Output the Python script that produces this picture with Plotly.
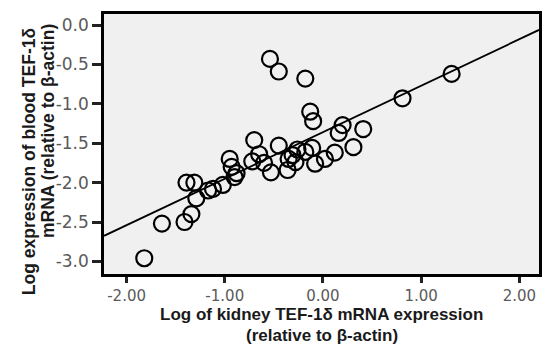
import plotly.graph_objects as go
import numpy as np

# Log kidney TEF-1δ (x) vs log blood TEF-1δ (y)
kidney = [-1.82, -1.64, -1.41, -1.34, -1.39, -1.31, -1.29, -1.17, -1.12, -1.02,
          -0.95, -0.93, -0.90, -0.88, -0.72, -0.70, -0.65, -0.60, -0.54, -0.45,
          -0.18, -0.13, -0.10, -0.45, -0.53, -0.36, -0.35, -0.28, -0.26, -0.18,
          -0.11, -0.08, 0.02, 0.12, 0.31, 0.16, 0.20, 0.41, 0.81, 1.31, -0.31]
blood = [-2.96, -2.52, -2.50, -2.40, -2.00, -2.00, -2.20, -2.10, -2.08, -2.03,
         -1.70, -1.80, -1.93, -1.88, -1.73, -1.46, -1.64, -1.75, -0.43, -0.59,
         -0.68, -1.10, -1.22, -1.53, -1.87, -1.84, -1.70, -1.74, -1.58, -1.61,
         -1.56, -1.76, -1.70, -1.62, -1.55, -1.37, -1.27, -1.32, -0.93, -0.62, -1.65]

fit_slope = 0.59
fit_intercept = -1.36

x_ticks = [-2, -1, 0, 1, 2]
x_ticktext = ["-2.00", "-1.00", "0.00", "1.00", "2.00"]
y_ticks = [0, -0.5, -1, -1.5, -2, -2.5, -3]
y_ticktext = ["0.0", "-0.5", "-1.0", "-1.5", "-2.0", "-2.5", "-3.0"]

x_title = ["Log of kidney TEF-1δ mRNA expression", "(relative to β-actin)"]
y_title = ["Log expression of blood TEF-1δ", "mRNA (relative to β-actin)"]

x_range = [-2.23, 2.20]
y_range = [-3.16, 0.14]

fit_x = np.array(x_range)
fit_y = fit_slope * fit_x + fit_intercept

fig = go.Figure()
fig.add_trace(go.Scatter(x=fit_x, y=fit_y, mode="lines",
                         line=dict(color="black", width=1.8), hoverinfo="skip"))
fig.add_trace(go.Scatter(x=kidney, y=blood, mode="markers",
                         marker=dict(symbol="circle-open", size=16, color="black",
                                     line=dict(width=2.2, color="black"))))

title_font_x = dict(family="Liberation Sans, Arial, sans-serif", size=17, color="#1a1a1a")
title_font_y = dict(family="Liberation Sans, Arial, sans-serif", size=17.5, color="#1a1a1a")
ann = [
    dict(text="<b>%s</b>" % x_title[0], x=0.5, y=0, xref="paper", yref="paper",
         xanchor="center", yanchor="middle", yshift=-40, showarrow=False, font=title_font_x),
    dict(text="<b>%s</b>" % x_title[1], x=0.5, y=0, xref="paper", yref="paper",
         xanchor="center", yanchor="middle", yshift=-61, showarrow=False, font=title_font_x),
    dict(text="<b>%s</b>" % y_title[0], x=0, y=0.43, xref="paper", yref="paper",
         xanchor="center", yanchor="middle", xshift=-75, textangle=-90,
         showarrow=False, font=title_font_y),
    dict(text="<b>%s</b>" % y_title[1], x=0, y=0.55, xref="paper", yref="paper",
         xanchor="center", yanchor="middle", xshift=-56, textangle=-90,
         showarrow=False, font=title_font_y),
]

fig.update_layout(
    width=544, height=347,
    margin=dict(l=104, r=2, t=14, b=73),
    paper_bgcolor="white", plot_bgcolor="#f0f0f0",
    showlegend=False,
    font=dict(family="DejaVu Sans, sans-serif", color="#222"),
    annotations=ann,
)
tick_font_x = dict(family="DejaVu Sans, sans-serif", size=15, color="#5a5a5a")
tick_font_y = dict(family="DejaVu Sans, sans-serif", size=17, color="#5a5a5a")
fig.update_xaxes(range=x_range, tickvals=x_ticks, ticktext=x_ticktext,
                 showgrid=False, zeroline=False, showline=True, mirror=True,
                 linecolor="black", linewidth=2.5, ticks="outside", ticklen=6,
                 tickwidth=2.5, tickcolor="#222", tickfont=tick_font_x)
fig.update_yaxes(range=y_range, tickvals=y_ticks, ticktext=y_ticktext,
                 showgrid=False, zeroline=False, showline=True, mirror=True,
                 linecolor="black", linewidth=2.5, ticks="outside", ticklen=9,
                 tickwidth=2.5, tickcolor="#222", tickfont=tick_font_y)

fig.write_html("out.html")
